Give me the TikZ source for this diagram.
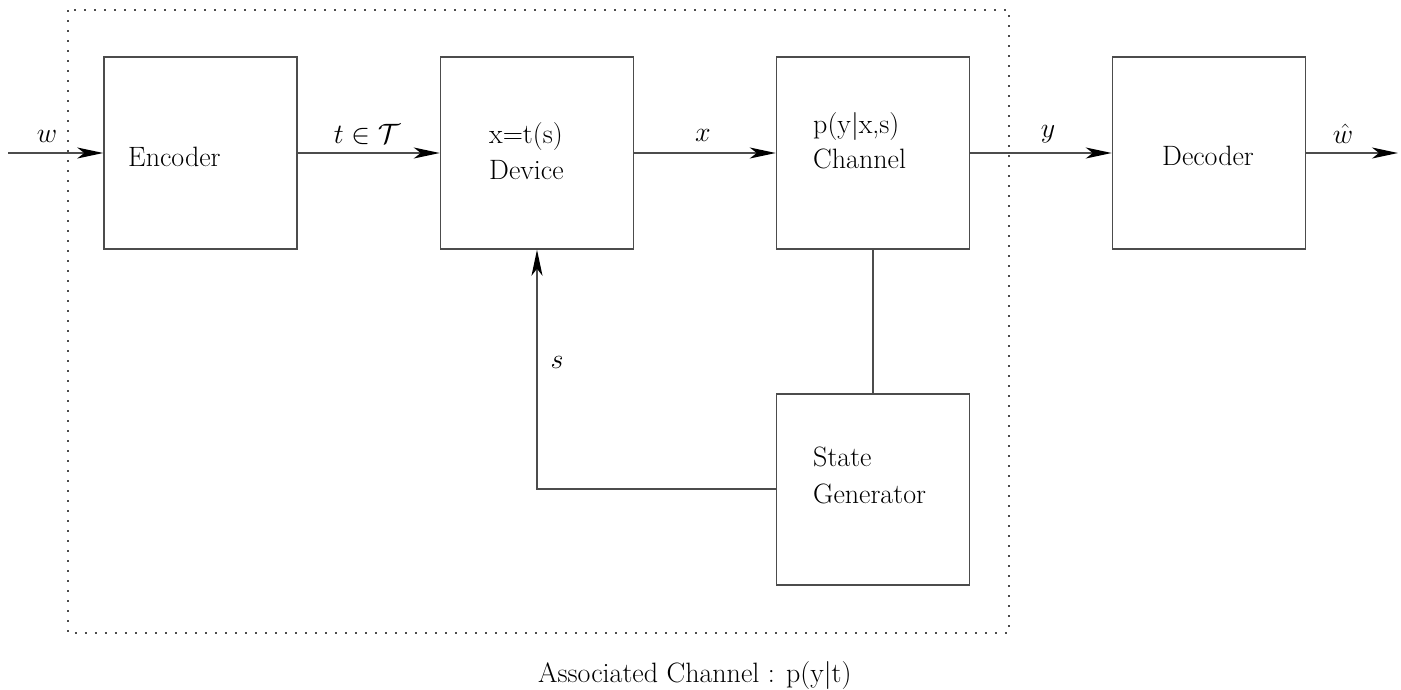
\documentclass[tikz,border=0pt]{standalone}
\usepackage{fix-cm}
\usepackage{fontspec}
\usetikzlibrary{arrows.meta}
\tikzset{
  blk/.style={draw=black!70, line width=1.5pt, rectangle, inner sep=0pt, minimum width=193pt, minimum height=192pt},
  txt/.style={inner sep=0pt, font=\rmfamily\fontsize{28}{34}\selectfont},
  mtxt/.style={inner sep=0pt, font=\fontsize{28}{34}\selectfont},
  conn/.style={draw=black!70, line width=1.5pt},
  arr/.style={conn, -{Stealth[length=26pt,width=11pt,inset=7pt,color=black]}},
  frame/.style={draw=black!70, line width=1.6pt, dash pattern=on 1.6pt off 8.4pt}
}
\begin{document}
\begin{tikzpicture}[x=1pt,y=-1pt]
\useasboundingbox (0,0) rectangle (1401,689);
\draw[frame] (68,10) rectangle (1009,633);
\node[blk] (enc) at (200.5,153) {};
\node[blk] (dev) at (537,153) {};
\node[blk] (chan) at (873,153) {};
\node[blk] (dec) at (1209,153) {};
\node[blk, minimum height=191pt] (gen) at (873,489.5) {};
\node[txt, anchor=base west] (tenc) at (128,166) {Encoder};
\node[txt, anchor=base west] (tdev1) at (489,143) {x=t(s)};
\node[txt, anchor=base west] (tdev2) at (489,179) {Device};
\node[txt, anchor=base west] (tch1) at (813,133) {p(y|x,s)};
\node[txt, anchor=base west] (tch2) at (813,168) {Channel};
\node[txt, anchor=base west] (tdec) at (1162,165) {Decoder};
\node[txt, anchor=base west] (tgen1) at (813,466) {State};
\node[txt, anchor=base west] (tgen2) at (813,503) {Generator};
\node[txt, anchor=base west] (cap) at (538,682) {Associated Channel : p(y|t)};
\coordinate (win) at (8,153);
\coordinate (wout) at (1398,153);
\coordinate (corner) at (537,489);
\draw[arr] (win) -- (enc.west);
\draw[arr] (enc.east) -- (dev.west);
\draw[arr] (dev.east) -- (chan.west);
\draw[arr] (chan.east) -- (dec.west);
\draw[arr] (dec.east) -- (wout);
\draw[conn] (chan.south) -- (gen.north);
\draw[arr] (gen.west |- corner) -- (corner) -- (dev.south);
\node[mtxt, anchor=base] (lw) at (47,142) {$w$};
\node[mtxt, anchor=base] (lt) at (367,143) {$t\in\mathcal{T}$};
\node[mtxt, anchor=base] (lx) at (703,141) {$x$};
\node[mtxt, anchor=base] (ly) at (1048,137) {$y$};
\node[mtxt, anchor=base] (lwh) at (1343,143) {$\hat{w}$};
\node[mtxt, anchor=base] (ls) at (557,368) {$s$};
\end{tikzpicture}
\end{document}
